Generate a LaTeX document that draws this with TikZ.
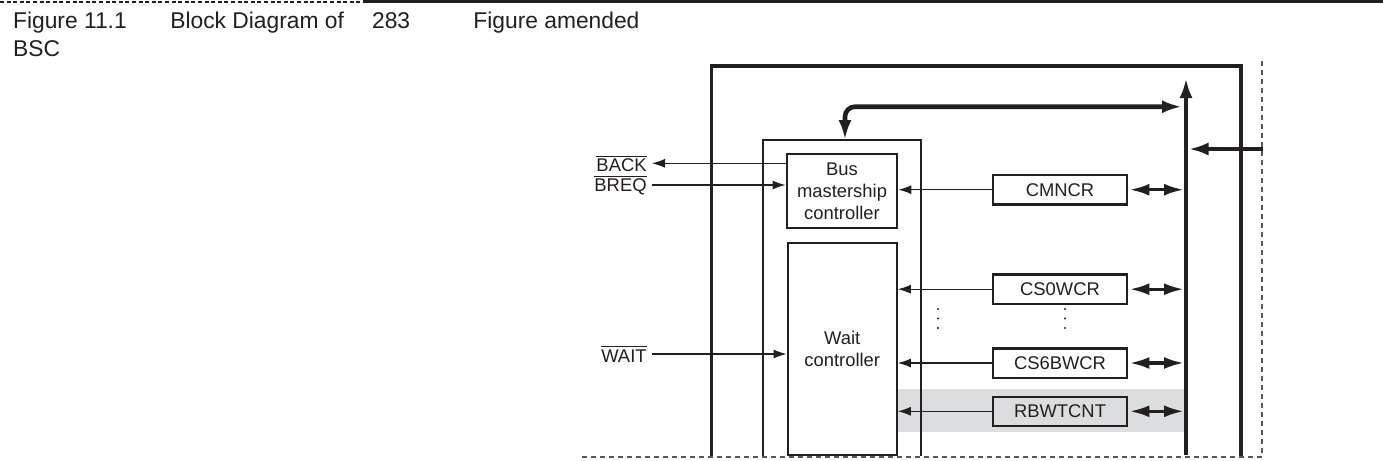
\documentclass[tikz,border=0pt]{standalone}
\usepackage{fontspec}
\setmainfont{Liberation Sans}
\usetikzlibrary{arrows.meta, positioning, calc}
\definecolor{ink}{RGB}{35,31,32}
\definecolor{bandgray}{RGB}{220,221,222}

\begin{document}
\begin{tikzpicture}[
  x=0.5pt, y=-0.5pt, color=ink,
  font=\fontsize{9.2}{11}\selectfont,
  hdr/.style={font=\fontsize{11.4}{13.7}\selectfont, anchor=base west, inner sep=0pt},
  ctrl/.style={rectangle, draw=ink, line width=1.15pt, inner sep=0pt, align=center},
  reg/.style={rectangle, draw=ink, line width=1.15pt, minimum width=66.7pt, minimum height=14.65pt, inner sep=0pt},
  pinlbl/.style={inner xsep=2.5pt, inner ysep=0pt},
  sig/.style={draw=ink, line width=0.55pt, -{Latex[length=6.5pt, width=4.5pt]}},
  regarrow/.style={draw=ink, line width=1.65pt, shorten <=0.8pt, {Latex[length=10pt, width=6pt]}-{Latex[length=10pt, width=6pt]}},
  bus/.style={draw=ink, line width=2.3pt, -{Latex[length=10pt, width=6.5pt]}},
  cutline/.style={draw=ink!75, line width=1pt, dash pattern=on 2.5pt off 2pt}
]
  \useasboundingbox (0,0) rectangle (1383,461);

  % Table row above the figure.
  \draw[line width=1pt, dash pattern=on 2pt off 1.3pt] (0,1.5) -- (363,1.5);
  \draw[line width=1.5pt] (363,1.5) -- (1383,1.5);
  \node[hdr] (fig) at (12.7,28.3) {Figure 11.1};
  \node[hdr] (bsc) at (12.7,56) {BSC};
  \node[hdr] (title) at (170,28.3) {Block Diagram of};
  \node[hdr] (page) at (371.7,28.3) {283};
  \node[hdr] (note) at (473,28.3) {Figure amended};

  % Shaded row for the new register.
  \fill[bandgray] (897,389.3) rectangle (1184,432.3);

  % Module frames, open at the cut.
  \draw[line width=1.7pt] (711.7,456) -- (711.7,66) -- (1241,66) -- (1241,456);
  \draw[line width=1pt] (763.3,456) -- (763.3,140) -- (921,140) -- (921,456);
  \draw[cutline] (582,456.7) -- (1262,456.7) -- (1262,57);

  % Controllers and registers.
  \node[ctrl, minimum width=55.3pt, minimum height=37pt] (bmc) at (842,191) {Bus\\mastership\\controller};
  \node[ctrl, minimum width=54.5pt, minimum height=106.2pt] (waitc) at (842.2,348.9) {Wait\\controller};

  \node[reg] (cmncr) at (1060,189.7) {CMNCR};
  \node[reg] (cs0) at (1060,289.2) {CS0WCR};
  \node[reg] (cs6) at (1060,363) {CS6BWCR};
  \node[reg, fill=bandgray] (rbw) at (1060,411.3) {RBWTCNT};

  % Internal bus.
  \coordinate (busbot) at (1186,455);
  \coordinate (bustop) at (1186,78);
  \coordinate (busL) at (1184,0);
  \coordinate (busR) at (1188.5,149);
  \coordinate (extin) at (1263,149);
  \coordinate (bscin) at (845,140);
  \coordinate (busup) at (1182,106.7);

  \draw[bus] (busbot) -- (bustop);
  \draw[bus, {Latex[length=10pt, width=6.5pt]}-{Latex[length=10pt, width=6.5pt]}, rounded corners=5pt] (bscin) |- (busup);
  \draw[bus] (extin) -- (busR);

  \foreach \r in {cmncr, cs0, cs6, rbw}
    \draw[regarrow] (\r.east) -- (\r.east -| busL);

  \draw[sig] (cmncr.west) -- (cmncr.west -| bmc.east);
  \foreach \r in {cs0, cs6, rbw}
    \draw[sig] (\r.west) -- (\r.west -| waitc.east);

  \foreach \x in {938,1065}
    \foreach \y in {309,318.5,328}
      \fill (\x,\y) circle (0.55pt);

  % External pins.
  \node[pinlbl, anchor=east] (back) at (652,163.3) {$\overline{\mbox{BACK}}$};
  \node[pinlbl, anchor=east] (breq) at (652,185) {$\overline{\mbox{BREQ}}$};
  \node[pinlbl, anchor=east] (wait) at (652,354) {$\overline{\mbox{WAIT}}$};

  \draw[sig] (bmc.west |- back.east) -- (back.east);
  \draw[sig] (breq.east) -- (breq.east -| bmc.west);
  \draw[sig] (wait.east) -- (wait.east -| waitc.west);
\end{tikzpicture}
\end{document}
